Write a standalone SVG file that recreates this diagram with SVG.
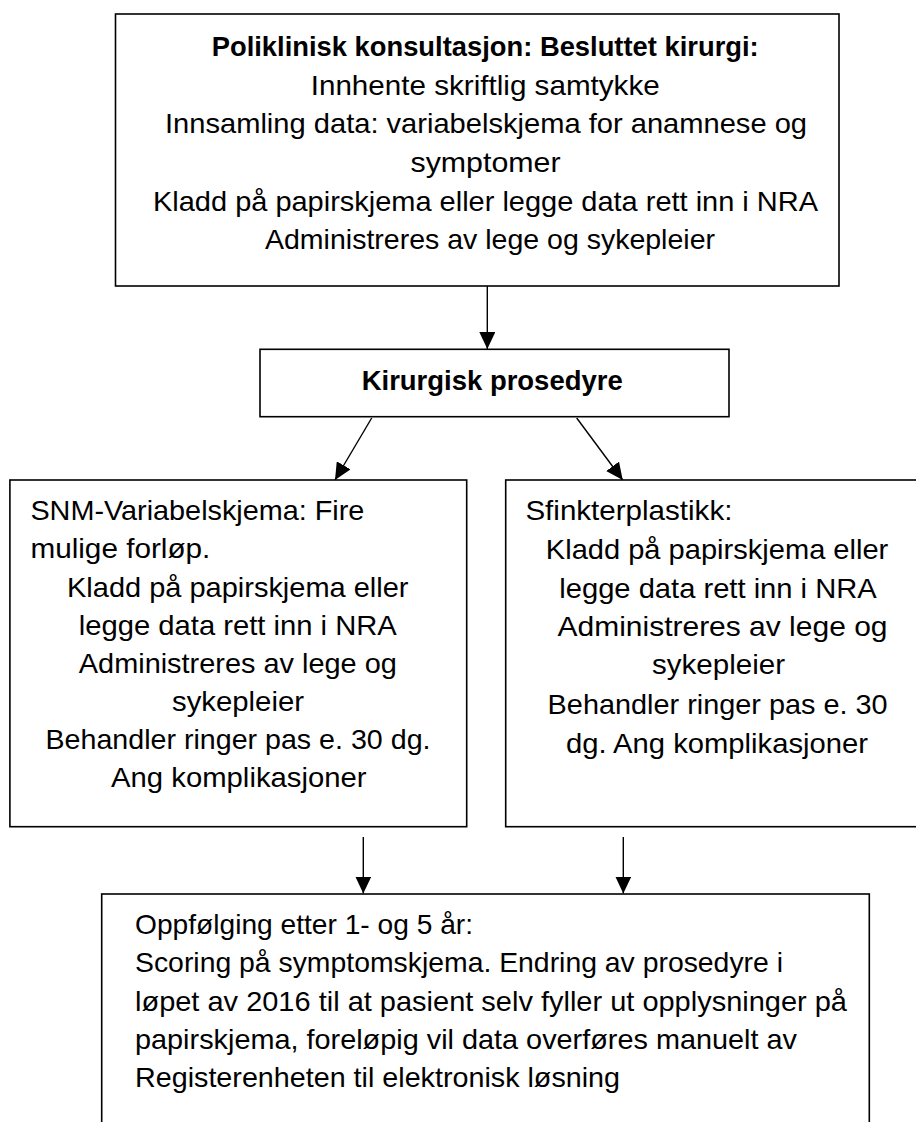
<svg xmlns="http://www.w3.org/2000/svg" width="916" height="1122" viewBox="0 0 916 1122">
<defs>
<style>
.box{fill:#fff;stroke:#000;stroke-width:1.6}
.t{font-family:"Liberation Sans",Arial,sans-serif;font-size:28.5px;fill:#000}
.b{font-weight:bold}
.c{stroke:#000;stroke-width:1.4;fill:none;marker-end:url(#ah)}
</style>
<marker id="ah" markerUnits="userSpaceOnUse" markerWidth="18" markerHeight="16" viewBox="0 0 18 16" refX="17" refY="8" orient="auto">
<path d="M0,0 L17,8 L0,16 Z" fill="#000"/>
</marker>
</defs>
<rect width="916" height="1122" fill="#fff"/>
<g id="connectors">
<line class="c" x1="487.3" y1="286" x2="487.3" y2="349"/>
<line class="c" x1="371.7" y1="418" x2="335" y2="480"/>
<line class="c" x1="576.7" y1="418" x2="622.7" y2="480"/>
<line class="c" x1="363.3" y1="837" x2="363.3" y2="893.5"/>
<line class="c" x1="623.3" y1="837" x2="623.3" y2="893.5"/>
</g>
<g id="node-poliklinisk">
<rect class="box" x="115.5" y="14" width="723.5" height="272"/>
<text class="t b" x="211.7" y="55.5" textLength="547" lengthAdjust="spacingAndGlyphs">Poliklinisk konsultasjon: Besluttet kirurgi:</text>
<text class="t" x="310.7" y="94.5" textLength="349" lengthAdjust="spacingAndGlyphs">Innhente skriftlig samtykke</text>
<text class="t" x="165" y="133" textLength="642" lengthAdjust="spacingAndGlyphs">Innsamling data: variabelskjema for anamnese og</text>
<text class="t" x="410.5" y="172" textLength="150" lengthAdjust="spacingAndGlyphs">symptomer</text>
<text class="t" x="153" y="211" textLength="665" lengthAdjust="spacingAndGlyphs">Kladd på papirskjema eller legge data rett inn i NRA</text>
<text class="t" x="265" y="249" textLength="450" lengthAdjust="spacingAndGlyphs">Administreres av lege og sykepleier</text>
</g>
<g id="node-kirurgisk">
<rect class="box" x="260" y="349.3" width="469" height="67.4"/>
<text class="t b" x="361.7" y="390" textLength="261" lengthAdjust="spacingAndGlyphs">Kirurgisk prosedyre</text>
</g>
<g id="node-snm">
<rect class="box" x="9.9" y="480" width="456.8" height="346.7"/>
<text class="t" x="30.4" y="520" textLength="334" lengthAdjust="spacingAndGlyphs">SNM-Variabelskjema: Fire</text>
<text class="t" x="30.4" y="558" textLength="180" lengthAdjust="spacingAndGlyphs">mulige forløp.</text>
<text class="t" x="67" y="596.5" textLength="341.5" lengthAdjust="spacingAndGlyphs">Kladd på papirskjema eller</text>
<text class="t" x="78.8" y="635" textLength="318" lengthAdjust="spacingAndGlyphs">legge data rett inn i NRA</text>
<text class="t" x="78.8" y="673" textLength="318" lengthAdjust="spacingAndGlyphs">Administreres av lege og</text>
<text class="t" x="172" y="711" textLength="132" lengthAdjust="spacingAndGlyphs">sykepleier</text>
<text class="t" x="45.5" y="749" textLength="385" lengthAdjust="spacingAndGlyphs">Behandler ringer pas e. 30 dg.</text>
<text class="t" x="111" y="787" textLength="255.6" lengthAdjust="spacingAndGlyphs">Ang komplikasjoner</text>
</g>
<g id="node-sfinkter">
<rect class="box" x="505.7" y="480" width="460" height="346.7"/>
<text class="t" x="525.4" y="520" textLength="207" lengthAdjust="spacingAndGlyphs">Sfinkterplastikk:</text>
<text class="t" x="545.8" y="559" textLength="342.5" lengthAdjust="spacingAndGlyphs">Kladd på papirskjema eller</text>
<text class="t" x="559.3" y="597.5" textLength="317.4" lengthAdjust="spacingAndGlyphs">legge data rett inn i NRA</text>
<text class="t" x="557.5" y="636" textLength="330" lengthAdjust="spacingAndGlyphs">Administreres av lege og</text>
<text class="t" x="652" y="674" textLength="133" lengthAdjust="spacingAndGlyphs">sykepleier</text>
<text class="t" x="547.6" y="714" textLength="340" lengthAdjust="spacingAndGlyphs">Behandler ringer pas e. 30</text>
<text class="t" x="566" y="752.5" textLength="302" lengthAdjust="spacingAndGlyphs">dg. Ang komplikasjoner</text>
</g>
<g id="node-oppfolging">
<rect class="box" x="101.7" y="894" width="767.6" height="260"/>
<text class="t" x="135" y="934" textLength="338" lengthAdjust="spacingAndGlyphs">Oppfølging etter 1- og 5 år:</text>
<text class="t" x="135" y="972.3" textLength="648" lengthAdjust="spacingAndGlyphs">Scoring på symptomskjema. Endring av prosedyre i</text>
<text class="t" x="135" y="1010.6" textLength="712" lengthAdjust="spacingAndGlyphs">løpet av 2016 til at pasient selv fyller ut opplysninger på</text>
<text class="t" x="135" y="1048.9" textLength="662" lengthAdjust="spacingAndGlyphs">papirskjema, foreløpig vil data overføres manuelt av</text>
<text class="t" x="135" y="1087.2" textLength="485" lengthAdjust="spacingAndGlyphs">Registerenheten til elektronisk løsning</text>
</g>
</svg>
